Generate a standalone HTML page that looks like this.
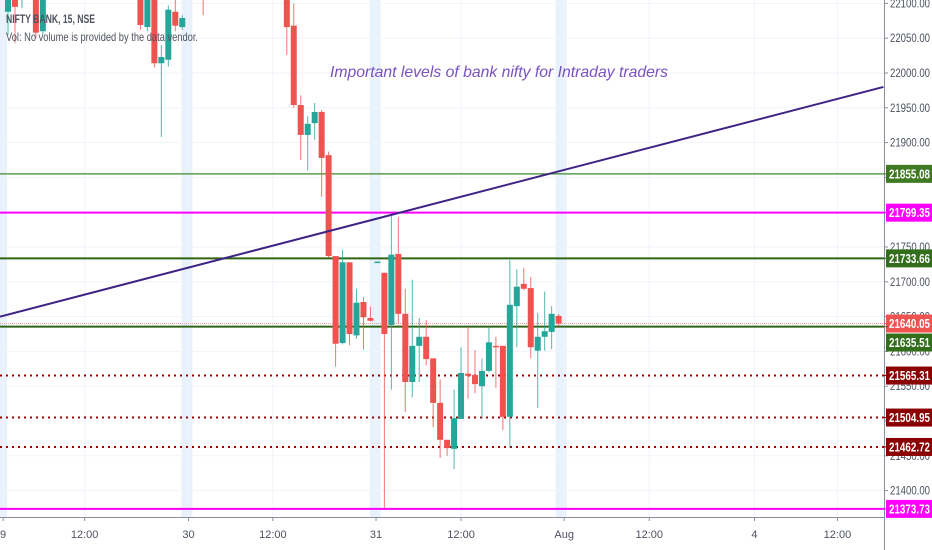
<!DOCTYPE html>
<html><head><meta charset="utf-8"><style>
html,body{margin:0;padding:0;background:#fff;width:932px;height:550px;overflow:hidden}
svg{display:block;font-family:"Liberation Sans",sans-serif}
</style></head><body>
<svg id="chart" width="932" height="550">
<g id="bg"></g><g id="levels"></g><g id="candles"></g><g id="overlay"></g><g id="axes"></g>
</svg>
<script>
const openP=[22088,22110,22110,22150,22150,22060,22160,22170,22180,22160,22190,22200,22170,22180,22160,22190,22170,22180,22160,22150,22066,22140,22014,22019,22088,22066,22160,22170,22150,22160,22170,22180,22190,22170,22180,22160,22170,22180,22170,22160,22150,22068,21954,21911,21928,21944,21882,21737,21612,21728,21623,21671,21648,21727,21713,21638,21740,21654,21556,21608,21621,21590,21526,21473,21460,21503,21568,21566,21550,21572,21608,21608,21506,21665,21697,21691,21601,21621,21628,21651];
const highP=[22130,22120,22150,22170,22160,22150,22180,22190,22200,22180,22210,22220,22190,22200,22180,22210,22190,22200,22180,22160,22150,22150,22040,22097,22105,22083,22180,22190,22160,22180,22190,22200,22210,22190,22200,22180,22190,22200,22190,22180,22160,22100,21968,21938,21957,21947,21887,21737,21746,21728,21690,21678,21664,21729,21713,21796,21793,21690,21703,21648,21645,21590,21560,21473,21545,21606,21635,21602,21590,21634,21621,21608,21731,21718,21720,21707,21655,21686,21665,21654];
const lowP=[22055,22043,22093,22130,22050,22055,22140,22150,22160,22140,22170,22180,22150,22160,22140,22170,22150,22160,22140,22062,22060,22008,21908,22009,22060,22062,22140,22150,22083,22140,22150,22160,22170,22150,22160,22140,22150,22160,22150,22140,22026,21950,21875,21860,21904,21822,21735,21578,21610,21609,21618,21603,21643,21727,21375,21545,21640,21513,21534,21556,21580,21491,21447,21450,21431,21503,21532,21540,21503,21570,21548,21487,21461,21606,21688,21590,21519,21601,21603,21636];
const closeP=[22115,22095,22140,22160,22058,22140,22170,22180,22170,22170,22200,22190,22180,22170,22170,22200,22160,22170,22150,22069,22140,22014,22023,22091,22068,22079,22170,22160,22120,22170,22180,22190,22180,22180,22170,22170,22180,22170,22160,22150,22066,21954,21911,21927,21944,21878,21737,21611,21728,21625,21670,21649,21644,21729,21625,21739,21654,21556,21608,21621,21589,21526,21473,21461,21504,21569,21565,21553,21572,21613,21606,21506,21667,21693,21690,21606,21621,21629,21654,21640];
const yTicks=[22100,22050,22000,21950,21900,21850,21800,21750,21700,21650,21600,21550,21500,21450,21400];
const xTickLabels=["9","12:00","30","12:00","31","12:00","Aug","12:00","4","12:00"];
const xTickIdx=[-0.7,11.0,25.9,38.0,52.8,65.0,79.8,92.0,107.1,119.0];
const sessionIdx=[-1,25.6,52.6,79.3];
const levelVals=[21855.08,21799.35,21733.66,21640.05,21635.51,21565.31,21504.95,21462.72,21373.73];
const levelKinds=["thin-green","magenta","green","price","green","dotred","dotred","dotred","magenta"];
const trendVals=[21650,21980];
const trendIdx=[-1.15,125.6];

const NS="http://www.w3.org/2000/svg";
const PW=884,PH=517;
function y(v){return 73+(22000-v)*0.696;}
function x(i){return 8+i*6.97;}
function mk(tag,attrs,parent){const e=document.createElementNS(NS,tag);for(const k in attrs)e.setAttribute(k,attrs[k]);parent.appendChild(e);return e;}
const bg=document.getElementById('bg'),lv=document.getElementById('levels'),cg=document.getElementById('candles'),ov=document.getElementById('overlay'),ax=document.getElementById('axes');

const clip=mk('clipPath',{id:'pc'},document.getElementById('chart'));
mk('rect',{x:0,y:0,width:PW,height:PH},clip);
[bg,lv,cg,ov].forEach(g=>g.setAttribute('clip-path','url(#pc)'));

sessionIdx.forEach(i=>{const r=mk('rect',{x:x(i)-5,y:0,width:11,height:PH,fill:'#e8f2fd'},bg);

});
yTicks.forEach(v=>{const l=mk('line',{x1:0,x2:PW,y1:y(v),y2:y(v),stroke:'#f0f3fa','stroke-width':1},bg);

});
xTickIdx.forEach(i=>{const l=mk('line',{x1:x(i),x2:x(i),y1:0,y2:PH,stroke:'#f0f3fa','stroke-width':1},bg);

});

const kindStyle={"thin-green":{c:'#3f8a2a',w:1.3,d:'',lb:'#3f7a22'},"magenta":{c:'#ff00ff',w:2,d:'',lb:'#ff00ff'},"green":{c:'#2e6414',w:2,d:'',lb:'#336e1c'},"price":{c:'#ef9a9a',w:1,d:'1,1',lb:'#ef5350'},"dotred":{c:'#a00000',w:2,d:'2,4',lb:'#8b0000'}};
levelVals.forEach((v,k)=>{const s=kindStyle[levelKinds[k]];
const l=mk('line',{x1:0,x2:PW,y1:y(v),y2:y(v),stroke:s.c,'stroke-width':s.w,'stroke-dasharray':s.d},lv);

});

for(let i=0;i<openP.length;i++){
 const up=closeP[i]>=openP[i];const col=up?'#26a69a':'#ef5350';
 const g=mk('g',{},cg);
 
 
 mk('line',{x1:x(i),x2:x(i),y1:y(highP[i]),y2:y(lowP[i]),stroke:col,'stroke-width':1,opacity:0.8},g);
 const t=y(Math.max(openP[i],closeP[i])),b=y(Math.min(openP[i],closeP[i]));
 mk('rect',{x:x(i)-3,y:t,width:6,height:Math.max(1.5,b-t),fill:col},g);
}

const tl=mk('line',{x1:x(trendIdx[0]),y1:y(trendVals[0]),x2:x(trendIdx[1]),y2:y(trendVals[1]),stroke:'#3f2385','stroke-width':2},ov);


const tt=mk('text',{x:330,y:77,'font-size':16,'font-style':'italic',fill:'#7a52bd',textLength:338,lengthAdjust:'spacingAndGlyphs'},ov);
tt.textContent='Important levels of bank nifty for Intraday traders';


const t1=mk('text',{x:6,y:23,'font-size':12,'font-weight':'bold',fill:'#50535e',textLength:89,lengthAdjust:'spacingAndGlyphs'},ov);
t1.textContent='NIFTY BANK, 15, NSE';


const t2=mk('text',{x:6,y:41,'font-size':12,fill:'#50535e',textLength:192,lengthAdjust:'spacingAndGlyphs'},ov);
t2.textContent='Vol: No volume is provided by the data vendor.';



// axes
const pa=mk('rect',{x:PW+1,y:0,width:932-PW,height:550,fill:'#fff'},ax);


const ta=mk('rect',{x:0,y:PH+1,width:PW,height:550-PH,fill:'#fff'},ax);


mk('line',{x1:PW+0.5,x2:PW+0.5,y1:0,y2:550,stroke:'#8a8e99','stroke-width':1},ax);
mk('line',{x1:0,x2:PW,y1:PH+0.5,y2:PH+0.5,stroke:'#8a8e99','stroke-width':1},ax);
yTicks.forEach(v=>{mk('line',{x1:PW,x2:PW+4,y1:y(v),y2:y(v),stroke:'#8a8e99'},ax);
 const t=mk('text',{x:PW+6,y:y(v)+4,'font-size':12,fill:'#4c525e',textLength:40,lengthAdjust:'spacingAndGlyphs'},ax);t.textContent=v.toFixed(2);
 
 });
xTickIdx.forEach((i,k)=>{mk('line',{x1:x(i),x2:x(i),y1:PH,y2:PH+4,stroke:'#8a8e99'},ax);
 const t=mk('text',{x:x(i),y:538,'text-anchor':'middle','font-size':11,fill:'#4c525e'},ax);t.textContent=xTickLabels[k];
 
 });
let prevBottom=-100;
levelVals.forEach((v,k)=>{const s=kindStyle[levelKinds[k]];
 let cy=y(v);
 if(cy-9<prevBottom+1) cy=prevBottom+10;
 prevBottom=cy+9;
 const g=mk('g',{},ax);
 
 
 mk('line',{x1:PW,x2:PW+4,y1:y(v),y2:y(v),stroke:s.lb,'stroke-width':1},g);
 mk('rect',{x:PW+2,y:cy-9,width:932-PW-2,height:18,fill:s.lb},g);
 const t=mk('text',{x:PW+5,y:cy+4.5,'font-size':12.5,'font-weight':'bold',fill:'#fff',textLength:41,lengthAdjust:'spacingAndGlyphs'},g);t.textContent=v.toFixed(2);});
</script>
</body></html>
